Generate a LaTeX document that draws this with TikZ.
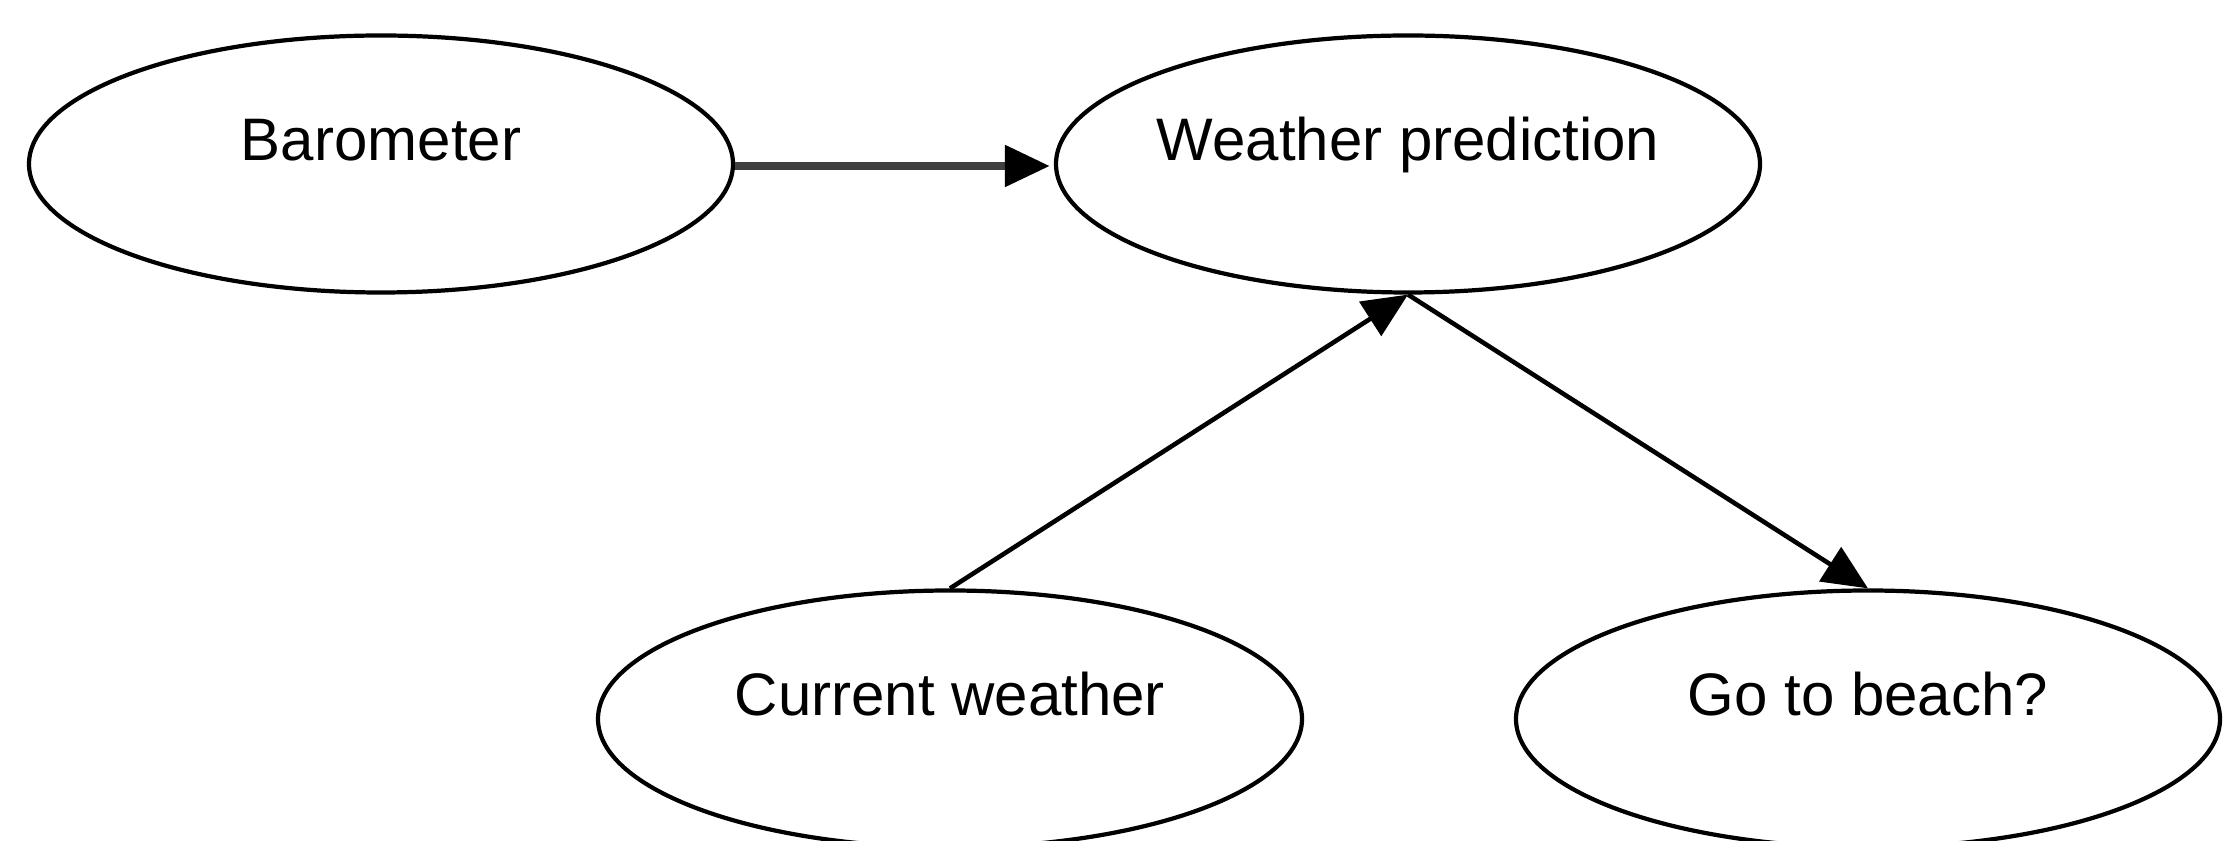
\documentclass[tikz,border=0pt]{standalone}
\usepackage{fontspec}
\setmainfont{Liberation Sans}
\usetikzlibrary{shapes.geometric,arrows.meta}
\begin{document}
\begin{tikzpicture}[
  ell/.style={draw=black, line width=1.2pt, ellipse, minimum width=7.04cm, minimum height=2.57cm, inner sep=0pt},
  lbl/.style={anchor=base, inner sep=0pt, font=\fontsize{17.07}{20}\selectfont},
  arr/.style={draw=black, line width=1.3pt, -{Triangle[length=0.45cm, width=0.40cm]}},
  thickarr/.style={draw=black!75, line width=2.4pt, -{Triangle[length=0.45cm, width=0.40cm, fill=black, color=black]}}
]
\useasboundingbox (0,0) rectangle (22.4,8.4);
\node[ell] (b) at (3.81,6.76) {};
\node[ell] (wp) at (14.08,6.76) {};
\node[ell] (cw) at (9.50,1.21) {};
\node[ell] (gb) at (18.68,1.21) {};
\node[lbl] (bt) at ([yshift=0.035cm]b.center) {Barometer};
\node[lbl] (wpt) at ([yshift=0.035cm]wp.center) {Weather prediction};
\node[lbl] (cwt) at ([yshift=0.035cm]cw.center) {Current weather};
\node[lbl] (gbt) at ([yshift=0.035cm]gb.center) {Go to beach?};
\draw[thickarr, shorten >=0.04cm] ([yshift=-0.02cm]b.east) -- ([yshift=-0.02cm]wp.west);
\draw[arr] (cw.north) -- (wp.south);
\draw[arr] (wp.south) -- (gb.north);
\end{tikzpicture}
\end{document}
